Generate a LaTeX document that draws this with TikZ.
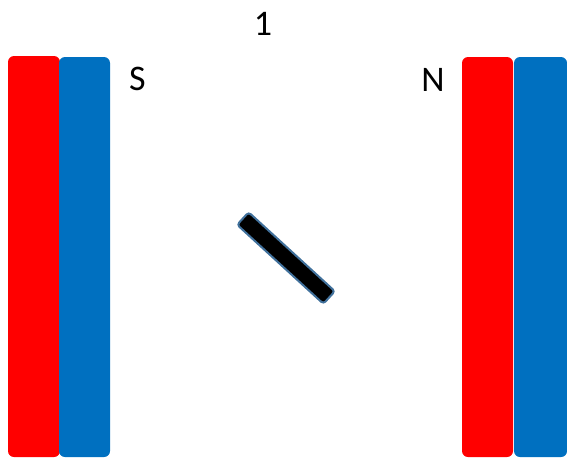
\documentclass[tikz,border=0pt]{standalone}
\usepackage{fontspec}
\setmainfont{Carlito}
\definecolor{magred}{RGB}{255,0,0}
\definecolor{magblue}{RGB}{0,112,192}
\definecolor{barline}{RGB}{65,113,156}
\begin{document}
\begin{tikzpicture}[x=1pt,y=-1pt,
  pole/.style={rounded corners=6pt},
  label/.style={font=\fontsize{36}{40}\selectfont, anchor=base, inner sep=0pt},
  needle/.style={fill=black, draw=barline, line width=2pt, rounded corners=3pt}]
\useasboundingbox (0,0) rectangle (567,459);
% left magnet
\fill[magred, pole] (8,56) rectangle (60,457);
\fill[magblue, pole] (59,57) rectangle (110,457);
% right magnet
\fill[magred, pole] (462,57) rectangle (513,457);
\fill[magblue, pole] (514,57) rectangle (567,457);
% labels
\node[label] (one) at (263,35) {1};
\node[label] (S) at (137.5,90) {S};
\node[label] (N) at (433,91) {N};
% needle
\draw[needle, rotate around={-42.5:(286,258)}] (227.5,249.5) rectangle (344.5,266.5);
\end{tikzpicture}
\end{document}
